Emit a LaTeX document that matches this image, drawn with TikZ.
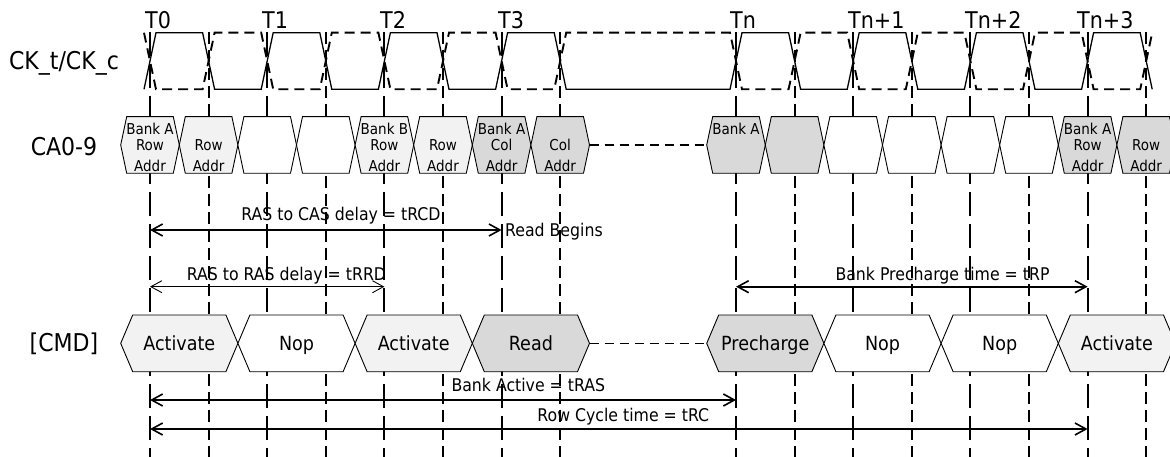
\documentclass[tikz,border=0pt]{standalone}
\usepackage{fontspec}
\setmainfont{DejaVu Sans Condensed}
\usetikzlibrary{arrows.meta}
\definecolor{lightfill}{HTML}{F2F2F2}
\definecolor{darkfill}{HTML}{D9D9D9}
\newcommand{\fsz}[1]{\fontsize{#1pt}{#1pt}\selectfont}
% hexagon: #1 left x, #2 right x, #3 slant, #4 top y, #5 bottom y, #6 fill
\newcommand{\hexa}[6]{%
  \filldraw[boxline, fill=#6] (#1,{(#4+#5)/2}) -- ({#1+#3},#4) -- ({#2-#3},#4)
    -- (#2,{(#4+#5)/2}) -- ({#2-#3},#5) -- ({#1+#3},#5) -- cycle;}
\begin{document}
\begin{tikzpicture}[x=1pt,y=-1pt,
  tline/.style={line width=2pt, dash pattern=on 24pt off 8pt},
  hline/.style={line width=2pt, dash pattern=on 12pt off 6pt},
  ckt/.style={line width=1.3pt, line join=miter},
  ckc/.style={line width=1.9pt, dash pattern=on 10pt off 6pt},
  boxline/.style={line width=0.9pt, draw=black},
  gapline/.style={line width=1.6pt, dash pattern=on 9pt off 6pt},
  rowlabel/.style={font=\fsz{24.5}, inner sep=0pt, anchor=base},
  tlabel/.style={font=\fsz{23}, inner sep=0pt, anchor=west},
  catext/.style={font=\fsz{15}, inner sep=0pt, anchor=base},
  cmdtext/.style={font=\fsz{19.5}, inner sep=0pt, anchor=base},
  dimtext/.style={font=\fsz{17.5}, inner sep=0pt, anchor=base},
  dimthick/.style={line width=1.6pt, {Straight Barb[length=11pt,width=12pt]}-{Straight Barb[length=11pt,width=12pt]}},
  dimthin/.style={line width=0.9pt, {Straight Barb[length=11pt,width=12pt]}-{Straight Barb[length=11pt,width=12pt]}}
]
\useasboundingbox (0,0) rectangle (1170,457);
\clip (0,0) rectangle (1170,457);

% clock edge coordinates
\foreach \k in {0,1,2,3,4,5,6,7,10,11,12,13,14,15,16,17}
  \coordinate (k\k) at ({150+\k*58.6},32);

% dimension labels (behind the grid lines)
\node[dimtext] (lrcd) at (341,221) {RAS to CAS delay = tRCD};
\node[dimtext, anchor=base west] (lread) at (505,236.5) {Read Begins};
\node[dimtext] (lrrd) at (286.5,280) {RAS to RAS delay = tRRD};
\node[dimtext] (lrp) at (942.5,280) {Bank Precharge time = tRP};
\node[dimtext] (lras) at (528.3,391.5) {Bank Active = tRAS};
\node[dimtext] (lrc) at (623.3,421.5) {Row Cycle time = tRC};

% vertical grid lines
\foreach \k in {0,2,4,6,10,12,14,16}
  \draw[tline] (k\k) -- ++(0,425);
\foreach \k in {1,3,5,7,11,13,15,17}
  \draw[hline] (k\k) -- ++(0,425);

% clock CK_t (solid) and CK_c (dashed)
\draw[ckt] (144,89.3)--(156,32.7)--(202.6,32.7)--(214.6,89.3)--(261.2,89.3)--(273.2,32.7)--(319.8,32.7)--(331.8,89.3)--(378.4,89.3)--(390.4,32.7)--(437,32.7)--(449,89.3)--(495.6,89.3)--(507.6,32.7)--(554.2,32.7)--(566.2,89.3)--(730,89.3)--(742,32.7)--(788.6,32.7)--(800.6,89.3)--(847.2,89.3)--(859.2,32.7)--(905.8,32.7)--(917.8,89.3)--(964.4,89.3)--(976.4,32.7)--(1023,32.7)--(1035,89.3)--(1081.6,89.3)--(1093.6,32.7)--(1140.2,32.7)--(1152.2,89.3);
\draw[ckc] (144,32.7)--(156,89.3)--(202.6,89.3)--(214.6,32.7)--(261.2,32.7)--(273.2,89.3)--(319.8,89.3)--(331.8,32.7)--(378.4,32.7)--(390.4,89.3)--(437,89.3)--(449,32.7)--(495.6,32.7)--(507.6,89.3)--(554.2,89.3)--(566.2,32.7)--(730,32.7)--(742,89.3)--(788.6,89.3)--(800.6,32.7)--(847.2,32.7)--(859.2,89.3)--(905.8,89.3)--(917.8,32.7)--(964.4,32.7)--(976.4,89.3)--(1023,89.3)--(1035,32.7)--(1081.6,32.7)--(1093.6,89.3)--(1140.2,89.3)--(1152.2,32.7);

% CA0-9 boxes
\foreach \k/\f in {0/lightfill,1/lightfill,2/white,3/white,4/lightfill,5/lightfill,6/darkfill,7/darkfill,10/darkfill,11/darkfill,12/white,13/white,14/white,15/white,16/darkfill,17/darkfill}{
  \pgfmathsetmacro\xc{150+\k*58.6}
  \hexa{\xc-29.3}{\xc+29.3}{6}{116.7}{173.3}{\f}
}
\coordinate (cagapL) at (589.5,145);
\coordinate (cagapR) at (706.7,145);
\draw[gapline] (cagapL) -- (cagapR);

% CA texts: three line positions
\foreach \k/\a/\b/\c in {0/Bank A/Row/Addr, 1//Row/Addr, 4/Bank B/Row/Addr, 5//Row/Addr, 6/Bank A/Col/Addr, 7//Col/Addr, 10/Bank A//, 16/Bank A/Row/Addr, 17//Row/Addr}{
  \node[catext] (ca\k a) at ({150+\k*58.6},135) {\a};
  \node[catext] (ca\k b) at ({150+\k*58.6},150.5) {\b};
  \node[catext] (ca\k c) at ({150+\k*58.6},172) {\c};
}

% CMD boxes
\foreach \k/\f/\t in {0/lightfill/Activate, 2/white/Nop, 4/lightfill/Activate, 6/darkfill/Read, 10/darkfill/Precharge, 12/white/Nop, 14/white/Nop, 16/lightfill/Activate}{
  \pgfmathsetmacro\xc{150+\k*58.6}
  \hexa{\xc-29.3}{\xc+87.9}{12}{315}{371.7}{\f}
  \node[cmdtext] (cmd\k) at ({\xc+29.3},350.5) {\t};
}
\coordinate (cmdgapL) at (589.5,343.35);
\coordinate (cmdgapR) at (706.7,343.35);
\draw[gapline] (cmdgapL) -- (cmdgapR);

% dimension arrows
\coordinate (rcdL) at (150,230);   \coordinate (rcdR) at (501.6,230);
\coordinate (rrdL) at (150,286.7); \coordinate (rrdR) at (384.4,286.7);
\coordinate (rpL) at (736,286.7);  \coordinate (rpR) at (1087.6,286.7);
\coordinate (rasL) at (150,400);   \coordinate (rasR) at (736,400);
\coordinate (rcL) at (150,429);    \coordinate (rcR) at (1087.6,429);
\draw[dimthick] (rcdL) -- (rcdR);
\draw[dimthin] (rrdL) -- (rrdR);
\draw[dimthick] (rpL) -- (rpR);
\draw[dimthick] (rasL) -- (rasR);
\draw[dimthick] (rcL) -- (rcR);

% row labels
\node[rowlabel] (lck) at (64,70) {CK\_t/CK\_c};
\node[rowlabel] (lca) at (64,155.5) {CA0-9};
\node[rowlabel] (lcmd) at (64,351.5) {[CMD]};

% clock edge labels
\node[tlabel] (T0) at (145,20) {T0};
\node[tlabel] (T1) at (262,20) {T1};
\node[tlabel] (T2) at (380,20) {T2};
\node[tlabel] (T3) at (498,20) {T3};
\node[tlabel] (Tn) at (730,20) {Tn};
\node[tlabel] (Tn1) at (848,20) {Tn+1};
\node[tlabel] (Tn2) at (965,20) {Tn+2};
\node[tlabel] (Tn3) at (1077,20) {Tn+3};
\end{tikzpicture}
\end{document}
